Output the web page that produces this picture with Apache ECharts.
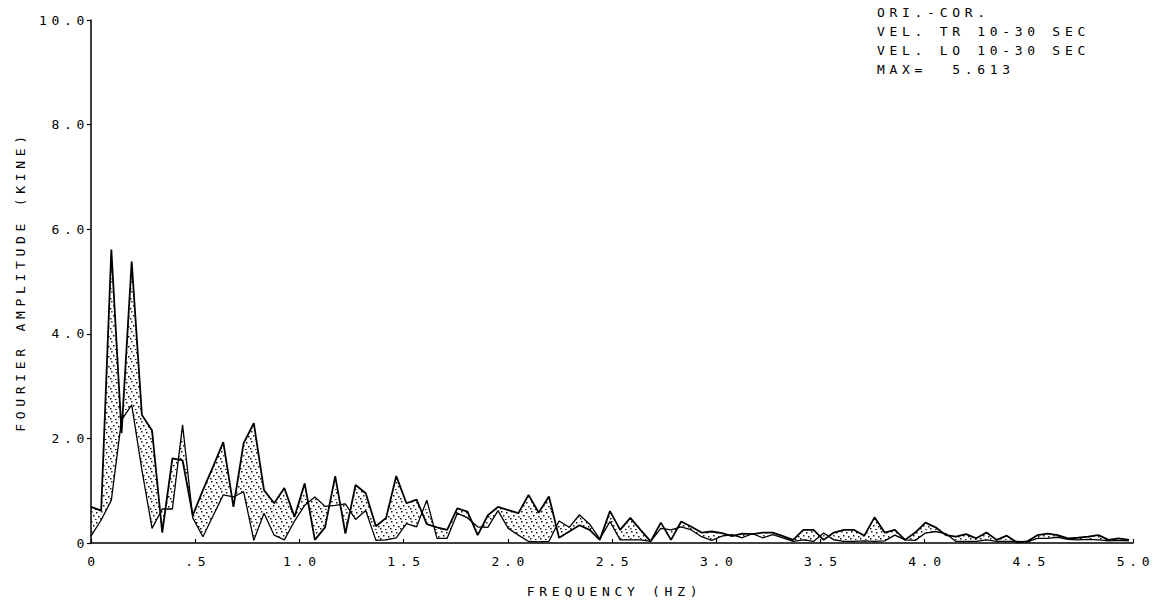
<!DOCTYPE html>
<html>
<head>
<meta charset="utf-8">
<script src="https://cdn.jsdelivr.net/npm/echarts@6/dist/echarts.min.js"></script>
<style>
  html, body { margin: 0; padding: 0; background: #fff; }
  #chart { width: 1162px; height: 604px; }
  /* plotter lettering: narrow glyphs, wide pitch */
  #chart text { letter-spacing: 4.7px; white-space: pre; }
</style>
</head>
<body>
<div id="chart"></div>
<script>
// spectrum resolution (20.48 s record)
const df = 1 / 20.48;

// Fourier amplitude (kine), TR component
const trAmp = [
  0.69, 0.62, 5.61, 2.10, 5.38, 2.45, 2.15, 0.20, 1.62, 1.58,
  0.53, 1.01, 1.46, 1.93, 0.69, 1.91, 2.29, 1.01, 0.76, 1.05,
  0.50, 1.14, 0.06, 0.30, 1.28, 0.18, 1.11, 0.95, 0.32, 0.48,
  1.28, 0.76, 0.83, 0.36, 0.30, 0.25, 0.66, 0.60, 0.15, 0.53,
  0.69, 0.63, 0.57, 0.92, 0.58, 0.89, 0.10, 0.22, 0.34, 0.25,
  0.06, 0.61, 0.25, 0.48, 0.25, 0.03, 0.39, 0.06, 0.41, 0.31,
  0.20, 0.22, 0.19, 0.13, 0.18, 0.17, 0.20, 0.20, 0.13, 0.06,
  0.25, 0.25, 0.06, 0.20, 0.25, 0.25, 0.14, 0.49, 0.20, 0.25,
  0.06, 0.20, 0.39, 0.30, 0.15, 0.12, 0.17, 0.09, 0.20, 0.06,
  0.14, 0.01, 0.03, 0.15, 0.18, 0.15, 0.09, 0.10, 0.12, 0.15,
  0.06, 0.09, 0.06
];

// Fourier amplitude (kine), LG component
const lgAmp = [
  0.13, 0.44, 0.82, 2.35, 2.64, 1.40, 0.28, 0.65, 0.65, 2.26,
  0.48, 0.12, 0.52, 0.92, 0.88, 0.98, 0.05, 0.57, 0.15, 0.06,
  0.42, 0.72, 0.88, 0.70, 0.72, 0.75, 0.45, 0.62, 0.05, 0.06,
  0.10, 0.37, 0.31, 0.82, 0.09, 0.09, 0.57, 0.48, 0.31, 0.30,
  0.62, 0.28, 0.15, 0.03, 0.02, 0.03, 0.42, 0.30, 0.54, 0.36,
  0.08, 0.41, 0.06, 0.06, 0.06, 0.03, 0.28, 0.25, 0.31, 0.25,
  0.12, 0.05, 0.13, 0.16, 0.10, 0.18, 0.10, 0.16, 0.10, 0.03,
  0.06, 0.03, 0.19, 0.06, 0.03, 0.03, 0.04, 0.03, 0.04, 0.15,
  0.06, 0.05, 0.19, 0.22, 0.18, 0.03, 0.03, 0.03, 0.06, 0.03,
  0.03, 0.03, 0.02, 0.09, 0.09, 0.11, 0.07, 0.06, 0.07, 0.06,
  0.04, 0.05, 0.04
];

const xTickLabels = ['0', '.5', '1.0', '1.5', '2.0', '2.5', '3.0', '3.5', '4.0', '4.5', '5.0'];
const yTickLabels = ['0', '2.0', '4.0', '6.0', '8.0', '10.0'];
const noteLines = ['ORI.-COR.', 'VEL. TR 10-30 SEC', 'VEL. LO 10-30 SEC', 'MAX=  5.613'];

const freqs = trAmp.map(function (_, i) { return i * df; });

const FONT = '"DejaVu Sans Mono", "Liberation Mono", monospace';
const INK = '#000';

// stipple tile for the area between the two spectra
function makeStipple() {
  const c = document.createElement('canvas');
  c.width = 10; c.height = 10;
  const g = c.getContext('2d');
  g.fillStyle = '#111';
  [[1, 1], [6, 2], [3, 5], [8, 6], [0, 8], [5, 9]].forEach(function (p) {
    g.fillRect(p[0], p[1], 1.5, 1.5);
  });
  return c;
}
const stipple = { image: makeStipple(), repeat: 'repeat', imageWidth: 10, imageHeight: 10 };

// one segment i -> i+1 per item; split at the crossing point when the lines cross
const bandData = [];
for (let i = 0; i < freqs.length - 1; i++) {
  bandData.push([freqs[i], trAmp[i], lgAmp[i], freqs[i + 1], trAmp[i + 1], lgAmp[i + 1]]);
}

function renderBand(params, api) {
  const x0 = api.value(0), p0 = api.value(1), q0 = api.value(2);
  const x1 = api.value(3), p1 = api.value(4), q1 = api.value(5);
  const d0 = p0 - q0, d1 = p1 - q1;
  let polys;
  if (d0 * d1 < 0) {
    const t = d0 / (d0 - d1);
    const c = [x0 + t * (x1 - x0), p0 + t * (p1 - p0)];
    polys = [[[x0, p0], c, [x0, q0]], [c, [x1, p1], [x1, q1]]];
  } else {
    polys = [[[x0, p0], [x1, p1], [x1, q1], [x0, q0]]];
  }
  return {
    type: 'group',
    children: polys.map(function (pts) {
      return {
        type: 'polygon',
        shape: { points: pts.map(function (pt) { return api.coord(pt); }) },
        style: { fill: stipple, stroke: null },
        silent: true
      };
    })
  };
}

const chart = echarts.init(document.getElementById('chart'), null, { renderer: 'svg' });

chart.setOption({
  animation: false,
  backgroundColor: '#fff',
  grid: { left: 91, right: 29, top: 20, bottom: 61, containLabel: false },
  xAxis: {
    type: 'value',
    min: 0, max: 5, interval: 0.5,
    name: 'FREQUENCY (HZ)',
    nameLocation: 'middle',
    nameGap: 42,
    nameTextStyle: { fontFamily: FONT, fontSize: 13, color: INK, padding: [0, 0, 0, 5] },
    axisLine: { lineStyle: { color: INK, width: 1.5 } },
    axisTick: { inside: true, length: 4, lineStyle: { color: INK, width: 1.2 } },
    axisLabel: {
      margin: 12,
      fontFamily: FONT, fontSize: 13, color: INK,
      padding: [0, 0, 0, 5],
      formatter: function (v) { return xTickLabels[Math.round(v / 0.5)]; }
    },
    splitLine: { show: false }
  },
  yAxis: {
    type: 'value',
    min: 0, max: 10, interval: 2,
    name: 'FOURIER AMPLITUDE (KINE)',
    nameLocation: 'middle',
    nameGap: 64,
    nameTextStyle: { fontFamily: FONT, fontSize: 13, color: INK },
    axisLine: { show: true, lineStyle: { color: INK, width: 1.5 } },
    axisTick: { show: true, inside: false, length: 4, lineStyle: { color: INK, width: 1.2 } },
    axisLabel: {
      margin: 2,
      fontFamily: FONT, fontSize: 13, color: INK,
      formatter: function (v) { return yTickLabels[Math.round(v / 2)]; }
    },
    splitLine: { show: false }
  },
  graphic: noteLines.map(function (line, k) {
    return {
      type: 'text',
      left: 877,
      top: 6 + k * 19,
      silent: true,
      style: { text: line, font: '13px ' + FONT, fill: INK }
    };
  }),
  series: [
    {
      type: 'custom',
      name: 'band',
      renderItem: renderBand,
      data: bandData,
      encode: { x: [0, 3], y: [1, 2, 4, 5] },
      silent: true,
      z: 1
    },
    {
      type: 'line',
      name: 'VEL. TR',
      data: freqs.map(function (f, i) { return [f, trAmp[i]]; }),
      showSymbol: false,
      lineStyle: { color: INK, width: 1.8 },
      silent: true,
      z: 3
    },
    {
      type: 'line',
      name: 'VEL. LO',
      data: freqs.map(function (f, i) { return [f, lgAmp[i]]; }),
      showSymbol: false,
      lineStyle: { color: INK, width: 1.3 },
      silent: true,
      z: 2
    }
  ]
});
</script>
</body>
</html>
